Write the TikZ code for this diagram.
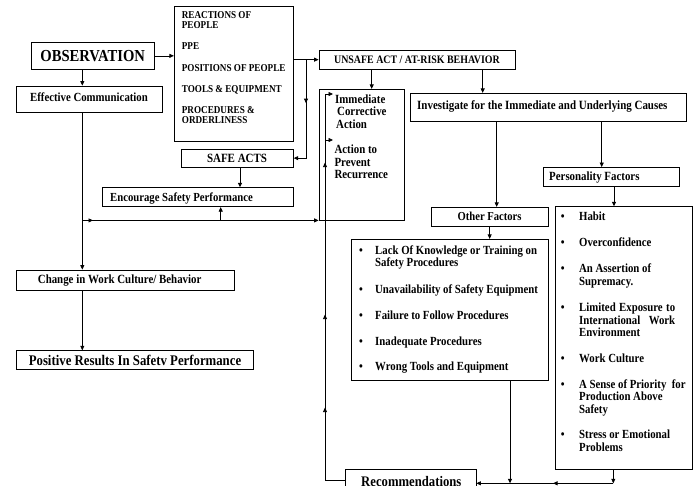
\documentclass[tikz,border=0pt]{standalone}
\usepackage{fontspec}
\setmainfont{Liberation Serif}[FakeStretch=0.87]
\usetikzlibrary{arrows.meta,fit,decorations.markings}

\newcommand{\fs}[2]{\fontsize{#1}{#2}\selectfont}
\newcommand{\ml}[1]{\begin{tabular}[t]{@{}l@{}}#1\end{tabular}}

\begin{document}
\begin{tikzpicture}[x=1pt,y=-1pt,
  box/.style={draw=black, line width=0.8pt, inner sep=0pt},
  txt/.style={inner sep=0pt, anchor=base west},
  ctxt/.style={inner sep=0pt, anchor=base},
  arr/.style={line width=0.7pt, -{Triangle[length=4.5pt,width=4pt]}},
  midarrow/.style={postaction={decorate,decoration={markings,
      mark=at position #1 with {\arrow{Triangle[length=4.5pt,width=4pt]}}}}},
  bul/.style={inner sep=0pt, anchor=base, font=\bfseries\fs{12.4}{12.6}},
  itm/.style={inner sep=0pt, anchor=base west, font=\bfseries\fs{12.4}{12.6}}
]
\useasboundingbox (0,0) rectangle (696,485);
\clip (0,0) rectangle (696,485);

% ---------- boxes ----------
\node[box, fit={(31,42.7) (154.3,69)}] (obs) {};
\node[box, fit={(16.7,86) (162.3,112.7)}] (eff) {};
\node[box, fit={(174.3,6) (293.3,141)}] (olist) {};
\node[box, fit={(181,149) (293.3,167.3)}] (safe) {};
\node[box, fit={(102.7,187.7) (293.3,206.7)}] (enc) {};
\node[box, fit={(319,50) (515,69.3)}] (unsafe) {};
\node[box, fit={(319,89.3) (404.3,220)}] (imm) {};
\node[box, fit={(410.7,93.3) (686.7,121.5)}] (inv) {};
\node[box, fit={(543.3,167.5) (679.3,186.5)}] (pers) {};
\node[box, fit={(431,207.3) (548.3,226.7)}] (other) {};
\node[box, fit={(351.7,239.3) (548.3,380)}] (othlist) {};
\node[box, fit={(555,206.7) (692,469)}] (plist) {};
\node[box, fit={(16.7,270) (234,290)}] (change) {};
\node[box, fit={(16.7,350.7) (253.3,369.3)}] (pos) {};
\node[box, fit={(345,469.3) (476,491)}] (rec) {};

% ---------- texts ----------
\node[ctxt, font=\bfseries\fs{16.8}{18}] (tobs) at (92.7,61) {OBSERVATION};
\node[ctxt, font=\bfseries\fs{12.4}{13}] (teff) at (89,101) {Effective Communication};
\node[txt, font=\bfseries\fs{10.5}{10.55}] (tol) at (181.7,18.3)
  {\ml{REACTIONS OF\\PEOPLE\\ \\PPE\\ \\POSITIONS OF PEOPLE\\ \\TOOLS \& EQUIPMENT\\ \\PROCEDURES \&\\ORDERLINESS}};
\node[ctxt, font=\bfseries\fs{12.6}{13}] (tsafe) at (237,162.3) {SAFE ACTS};
\node[txt, font=\bfseries\fs{12.3}{13}] (tenc) at (110,201) {Encourage Safety Performance};
\node[ctxt, font=\bfseries\fs{11.4}{12}] (tunsafe) at (417,63.3) {UNSAFE ACT / AT-RISK BEHAVIOR};
\node[txt, font=\bfseries\fs{12.5}{12.6}] (timm) at (335,103.3)
  {\ml{Immediate\\\hspace{2pt}Corrective\\\hspace{1pt}Action}};
\node[txt, font=\bfseries\fs{12.5}{12.8}] (tact) at (334.3,153.3)
  {\ml{Action to\\Prevent\\Recurrence}};
\node[txt, font=\bfseries\fs{12.6}{13}] (tinv) at (417,109.3)
  {Investigate for the Immediate and Underlying Causes};
\node[txt, font=\bfseries\fs{12.5}{13}] (tpers) at (549,180) {Personality Factors};
\node[ctxt, font=\bfseries\fs{12.2}{13}] (tother) at (489.6,220) {Other Factors};
\node[txt, font=\bfseries\fs{12.5}{13}] (tchange) at (37.7,283.3) {Change in Work Culture/ Behavior};
\node[ctxt, font=\bfseries\fs{14.7}{15}] (tpos) at (135,365) {Positive Results In Safetv Performance};
\node[txt, font=\bfseries\fs{14.6}{15}] (trec) at (361,486.5) {Recommendations};

% other factors list
\node[bul] (b1) at (361,254.3) {\textbullet};
\node[itm] (o1) at (375,254.3) {\ml{Lack Of Knowledge or Training on\\Safety Procedures}};
\node[bul] (b2) at (361,293.3) {\textbullet};
\node[itm] (o2) at (375,293.3) {Unavailability of Safety Equipment};
\node[bul] (b3) at (361,319) {\textbullet};
\node[itm] (o3) at (375,319) {Failure to Follow Procedures};
\node[bul] (b4) at (361,345.7) {\textbullet};
\node[itm] (o4) at (375,345.7) {Inadequate Procedures};
\node[bul] (b5) at (361,370.7) {\textbullet};
\node[itm] (o5) at (375,370.7) {Wrong Tools and Equipment};

% personality factors list
\node[bul] (c1) at (562.7,220.5) {\textbullet};
\node[itm] (p1) at (579,220.5) {Habit};
\node[bul] (c2) at (562.7,246.7) {\textbullet};
\node[itm] (p2) at (579,246.7) {Overconfidence};
\node[bul] (c3) at (562.7,272.7) {\textbullet};
\node[itm] (p3) at (579,272.7) {\ml{An Assertion of\\Supremacy.}};
\node[bul] (c4) at (562.7,311.5) {\textbullet};
\node[itm] (p4) at (579,311.5)
  {\ml{\makebox[96pt][s]{Limited Exposure to}\\\makebox[96pt][s]{International Work}\\Environment}};
\node[bul] (c5) at (562.7,362.3) {\textbullet};
\node[itm] (p5) at (579,362.3) {Work Culture};
\node[bul] (c6) at (562.7,388.3) {\textbullet};
\node[itm] (p6) at (579,388.3) {\ml{A Sense of Priority\ \ for\\Production Above\\Safety}};
\node[bul] (c7) at (562.7,438.5) {\textbullet};
\node[itm] (p7) at (579,438.5) {\ml{Stress or Emotional\\Problems}};

% ---------- helper coordinates ----------
\coordinate (xa) at (82.3,0);
\coordinate (xb) at (306,0);
\coordinate (xs) at (240,0);
\coordinate (xe) at (220.7,0);
\coordinate (xc) at (371.7,0);
\coordinate (xd) at (482.7,0);
\coordinate (xf) at (496.7,0);
\coordinate (xg) at (601.7,0);
\coordinate (xh) at (614,0);
\coordinate (xi) at (510,0);
\coordinate (xj) at (613.3,0);
\coordinate (xk) at (325,0);
\coordinate (xt) at (333,0);
\coordinate (yb) at (0,483.3);
\coordinate (yi) at (0,94);
\coordinate (yj) at (0,140);

% ---------- connectors ----------
\draw[arr] (obs.east) -- (obs.east -| olist.west);
\draw[arr] (obs.south -| xa) -- (eff.north -| xa);
\draw[arr] (eff.south -| xa) -- (change.north -| xa);
\draw[arr] (change.south -| xa) -- (pos.north -| xa);
\draw[arr, midarrow=10.7pt] (xa |- imm.south) -- (imm.south west);
\draw[arr] (xe |- imm.south) -- (xe |- enc.south);

\draw[arr] (olist.east |- unsafe.west) -- (unsafe.west);
\draw[arr, midarrow=43.5pt] (xb |- unsafe.west) -- (xb |- safe.east) -- (safe.east);
\draw[arr] (xs |- safe.south) -- (xs |- enc.north);

\draw[arr] (xc |- unsafe.south) -- (xc |- imm.north);
\draw[arr] (xd |- unsafe.south) -- (xd |- inv.north);
\draw[arr] (xf |- inv.south) -- (xf |- other.north);
\draw[arr] (xg |- inv.south) -- (xg |- pers.north);
\draw[arr] (xh |- pers.south) -- (xh |- plist.north);
\draw[arr] (other.south) -- (other.south |- othlist.north);

\draw[arr] (xi |- othlist.south) -- (xi |- yb);
\draw[arr] (xj |- plist.south) -- (xj |- yb);
\draw[arr, midarrow=60.3pt] (xj |- yb) -- (rec.east |- yb);

\draw[arr, midarrow=92.2pt, midarrow=185.2pt, midarrow=337.2pt]
  (rec.west) -- (xk |- rec.west) -- (xk |- yi) -- (xt |- yi);
\draw[arr] (xk |- yj) -- (xt |- yj);
\end{tikzpicture}
\end{document}
